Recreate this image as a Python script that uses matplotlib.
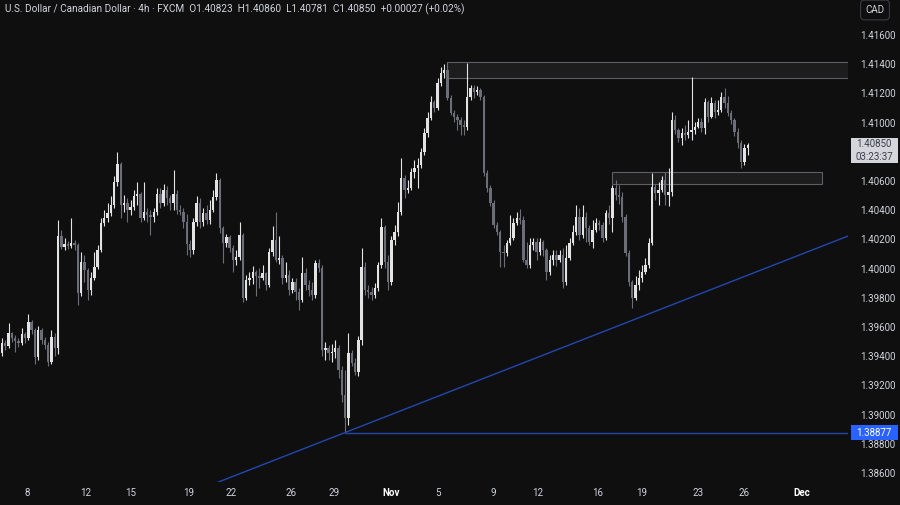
import numpy as np
import matplotlib.pyplot as plt
from matplotlib.patches import Rectangle

plt.rcParams['font.family'] = ['Roboto', 'DejaVu Sans']

# USD/CAD 4h candles (FXCM)
first_open = 1.39422
closes = [
    1.39490, 1.39470, 1.39559, 1.39525, 1.39504, 1.39490, 1.39552, 1.39525, 1.39634, 1.39580,
    1.39395, 1.39580, 1.39511, 1.39477, 1.39360, 1.39532, 1.39456, 1.40223, 1.40148, 1.40169,
    1.40155, 1.40175, 1.40162, 1.39833, 1.40045, 1.39991, 1.39854, 1.39936, 1.40011, 1.40128,
    1.40312, 1.40347, 1.40381, 1.40436, 1.40593, 1.40717, 1.40436, 1.40449, 1.40402, 1.40422,
    1.40497, 1.40511, 1.40347, 1.40388, 1.40367, 1.40354, 1.40388, 1.40511, 1.40449, 1.40539,
    1.40484, 1.40449, 1.40511, 1.40402, 1.40388, 1.40319, 1.40169, 1.40128, 1.40319, 1.40449,
    1.40319, 1.40381, 1.40333, 1.40402, 1.40491, 1.40607, 1.40278, 1.40175, 1.40217, 1.40141,
    1.40059, 1.40080, 1.40230, 1.39799, 1.39922, 1.39936, 1.39977, 1.39949, 1.39936, 1.39970,
    1.39888, 1.40114, 1.40196, 1.40059, 1.40073, 1.39936, 1.39956, 1.39854, 1.39908, 1.39840,
    1.39785, 1.39970, 1.39888, 1.39854, 1.39819, 1.40038, 1.40004, 1.39443, 1.39456, 1.39422,
    1.39429, 1.39456, 1.39306, 1.39134, 1.38977, 1.39422, 1.39353, 1.39292, 1.39511, 1.40011,
    1.39854, 1.39840, 1.39819, 1.39867, 1.40025, 1.40285, 1.40045, 1.39908, 1.40196, 1.40251,
    1.40388, 1.40621, 1.40539, 1.40552, 1.40662, 1.40689, 1.40710, 1.40799, 1.40929, 1.41032,
    1.41141, 1.41100, 1.41271, 1.41340, 1.41361, 1.41169, 1.41066, 1.41039, 1.41018, 1.40984,
    1.40970, 1.41176, 1.41237, 1.41210, 1.41224, 1.41176, 1.40655, 1.40552, 1.40449, 1.40299,
    1.40251, 1.40114, 1.40107, 1.40175, 1.40210, 1.40312, 1.40347, 1.40333, 1.40059, 1.40025,
    1.40162, 1.40182, 1.40114, 1.40182, 1.40128, 1.39977, 1.40059, 1.40093, 1.40059, 1.40093,
    1.39908, 1.40073, 1.40175, 1.40251, 1.40354, 1.40230, 1.40354, 1.40278, 1.40182, 1.40265,
    1.40312, 1.40299, 1.40210, 1.40381, 1.40347, 1.40552, 1.40504, 1.40491, 1.40354, 1.40107,
    1.39908, 1.39799, 1.39888, 1.39936, 1.39977, 1.40025, 1.40175, 1.40559, 1.40518, 1.40539,
    1.40607, 1.40504, 1.40525, 1.41018, 1.40950, 1.40895, 1.40929, 1.40915, 1.40936, 1.40950,
    1.40970, 1.41004, 1.40963, 1.41141, 1.41039, 1.41134, 1.41073, 1.41087, 1.41176, 1.41134,
    1.41066, 1.41018, 1.40936, 1.40860, 1.40730, 1.40823, 1.40850,
]
highs = [
    1.39525, 1.39511, 1.39627, 1.39566, 1.39545, 1.39525, 1.39593, 1.39566, 1.39689, 1.39648,
    1.39593, 1.39607, 1.39593, 1.39532, 1.39497, 1.39580, 1.39559, 1.40333, 1.40265, 1.40210,
    1.40189, 1.40347, 1.40196, 1.40175, 1.40114, 1.40093, 1.40004, 1.39977, 1.40114, 1.40162,
    1.40347, 1.40402, 1.40449, 1.40497, 1.40634, 1.40799, 1.40730, 1.40504, 1.40484, 1.40470,
    1.40539, 1.40593, 1.40525, 1.40593, 1.40415, 1.40402, 1.40415, 1.40552, 1.40552, 1.40580,
    1.40566, 1.40504, 1.40676, 1.40539, 1.40436, 1.40415, 1.40374, 1.40196, 1.40347, 1.40497,
    1.40484, 1.40415, 1.40436, 1.40470, 1.40539, 1.40655, 1.40621, 1.40292, 1.40237, 1.40230,
    1.40162, 1.40128, 1.40319, 1.40244, 1.39956, 1.39977, 1.40018, 1.39991, 1.40004, 1.40025,
    1.39977, 1.40141, 1.40292, 1.40388, 1.40223, 1.40093, 1.40045, 1.39991, 1.39936, 1.39936,
    1.39867, 1.40080, 1.40004, 1.39922, 1.39908, 1.40059, 1.40066, 1.40025, 1.39497, 1.39477,
    1.39484, 1.39511, 1.39477, 1.39333, 1.39306, 1.39559, 1.39443, 1.39388, 1.39538, 1.40141,
    1.40045, 1.39888, 1.39874, 1.39901, 1.40045, 1.40347, 1.40299, 1.40093, 1.40223, 1.40299,
    1.40456, 1.40758, 1.40641, 1.40607, 1.40689, 1.40744, 1.40758, 1.40826, 1.40963, 1.41073,
    1.41182, 1.41155, 1.41306, 1.41381, 1.41402, 1.41415, 1.41189, 1.41087, 1.41059, 1.41039,
    1.41018, 1.41408, 1.41258, 1.41258, 1.41251, 1.41237, 1.41189, 1.40676, 1.40573, 1.40470,
    1.40319, 1.40265, 1.40162, 1.40196, 1.40367, 1.40347, 1.40388, 1.40408, 1.40360, 1.40182,
    1.40210, 1.40210, 1.40210, 1.40210, 1.40196, 1.40141, 1.40093, 1.40128, 1.40128, 1.40128,
    1.40141, 1.40162, 1.40210, 1.40299, 1.40436, 1.40415, 1.40436, 1.40388, 1.40299, 1.40333,
    1.40347, 1.40333, 1.40319, 1.40402, 1.40436, 1.40573, 1.40607, 1.40573, 1.40525, 1.40374,
    1.40128, 1.39922, 1.39949, 1.39991, 1.40025, 1.40073, 1.40210, 1.40655, 1.40580, 1.40593,
    1.40634, 1.40662, 1.40689, 1.41073, 1.41052, 1.40963, 1.40963, 1.40984, 1.41018, 1.41313,
    1.41004, 1.41032, 1.41032, 1.41169, 1.41155, 1.41176, 1.41155, 1.41155, 1.41210, 1.41237,
    1.41182, 1.41087, 1.41032, 1.40963, 1.40881, 1.40854, 1.40860,
]
lows = [
    1.39401, 1.39443, 1.39456, 1.39497, 1.39429, 1.39463, 1.39477, 1.39490, 1.39511, 1.39552,
    1.39347, 1.39374, 1.39484, 1.39449, 1.39333, 1.39347, 1.39401, 1.39415, 1.40134, 1.40128,
    1.40134, 1.40141, 1.40128, 1.39751, 1.39812, 1.39908, 1.39785, 1.39819, 1.39922, 1.39997,
    1.40114, 1.40292, 1.40319, 1.40360, 1.40415, 1.40566, 1.40347, 1.40388, 1.40319, 1.40367,
    1.40402, 1.40436, 1.40319, 1.40333, 1.40319, 1.40230, 1.40319, 1.40367, 1.40415, 1.40429,
    1.40436, 1.40402, 1.40402, 1.40374, 1.40367, 1.40278, 1.40093, 1.40080, 1.40100, 1.40292,
    1.40278, 1.40292, 1.40306, 1.40306, 1.40388, 1.40470, 1.40244, 1.40038, 1.40148, 1.40114,
    1.39977, 1.40025, 1.40059, 1.39771, 1.39785, 1.39888, 1.39895, 1.39812, 1.39867, 1.39922,
    1.39854, 1.39874, 1.40086, 1.40045, 1.40032, 1.39895, 1.39908, 1.39819, 1.39833, 1.39785,
    1.39717, 1.39771, 1.39854, 1.39812, 1.39785, 1.39799, 1.39977, 1.39401, 1.39374, 1.39374,
    1.39360, 1.39388, 1.39251, 1.39086, 1.38877, 1.38929, 1.39333, 1.39271, 1.39264, 1.39477,
    1.39819, 1.39799, 1.39785, 1.39799, 1.39847, 1.40004, 1.40004, 1.39854, 1.39888, 1.40162,
    1.40223, 1.40367, 1.40484, 1.40518, 1.40539, 1.40621, 1.40552, 1.40689, 1.40778, 1.40902,
    1.41018, 1.41073, 1.41087, 1.41251, 1.41306, 1.41155, 1.41052, 1.41004, 1.40950, 1.40915,
    1.40915, 1.40950, 1.41155, 1.41169, 1.41189, 1.41155, 1.40634, 1.40525, 1.40429, 1.40278,
    1.40230, 1.40011, 1.40011, 1.40086, 1.40162, 1.40196, 1.40299, 1.40306, 1.40045, 1.40004,
    1.40004, 1.40128, 1.40059, 1.40093, 1.40086, 1.39922, 1.39956, 1.40025, 1.40018, 1.40045,
    1.39867, 1.39888, 1.40059, 1.40162, 1.40230, 1.40196, 1.40210, 1.40182, 1.40162, 1.40141,
    1.40251, 1.40265, 1.40182, 1.40196, 1.40306, 1.40251, 1.40470, 1.40443, 1.40319, 1.40086,
    1.39881, 1.39730, 1.39785, 1.39854, 1.39908, 1.39963, 1.40004, 1.40162, 1.40470, 1.40436,
    1.40525, 1.40436, 1.40429, 1.40497, 1.40922, 1.40867, 1.40847, 1.40881, 1.40895, 1.40881,
    1.40922, 1.40963, 1.40936, 1.40922, 1.41004, 1.41032, 1.41032, 1.41052, 1.41073, 1.41100,
    1.41045, 1.40991, 1.40909, 1.40826, 1.40689, 1.40710, 1.40781,
]

price_ticks = [1.386, 1.388, 1.390, 1.392, 1.394, 1.396, 1.398, 1.400,
               1.402, 1.404, 1.406, 1.410, 1.412, 1.414, 1.416]
date_pos = [7.5, 25.5, 39, 56.5, 69.5, 87.5, 100.5, 118, 132, 149,
            162.5, 180.5, 194, 211, 225, 242.5]
date_labels = ['8', '12', '15', '19', '22', '26', '29', 'Nov', '5', '9',
               '12', '16', '19', '23', '26', 'Dec']

resistance = (1.41305, 1.41415)   # zone drawn from bar 135
support = (1.40579, 1.40662)      # zone drawn from bar 185 to 248.5
swing_low = 1.38877
trend_bars = [104, 256.4]
trend_prices = [1.38877, 1.40223]
last_price = 1.40850
countdown = '03:23:37'

bg = '#0f0f0f'
up_col = '#e3e3e3'
down_col = '#6b6e78'
txt_col = '#d1d4dc'
line_blue = '#2248b0'

fig = plt.figure(figsize=(9, 5.05), dpi=100, facecolor=bg)
ax = fig.add_axes([0, 23 / 505, 848 / 900, 482 / 505], facecolor=bg)

c = np.array(closes)
o = np.concatenate([[first_open], c[:-1]])
h = np.maximum(np.array(highs), np.maximum(o, c))
l = np.minimum(np.array(lows), np.minimum(o, c))
x = np.arange(len(c))
up = c >= o
cols = np.where(up, up_col, down_col)

ax.vlines(x, l, h, colors=cols, linewidth=0.8, zorder=2)
body = np.maximum(np.abs(c - o), 0.00004)
ax.bar(x, body, bottom=np.minimum(o, c), width=0.72, color=cols,
       edgecolor='none', zorder=3)

# zones
ax.add_patch(Rectangle((135, resistance[0]), 130, resistance[1] - resistance[0],
                       facecolor='#2a2a2c', alpha=0.55, edgecolor='#9a9ca3',
                       linewidth=0.8, zorder=1))
ax.add_patch(Rectangle((185, support[0]), 63.5, support[1] - support[0],
                       facecolor='#2a2a2c', alpha=0.55, edgecolor='#9a9ca3',
                       linewidth=0.8, zorder=1))

# trendline and swing low
slope = (trend_prices[1] - trend_prices[0]) / (trend_bars[1] - trend_bars[0])
tx = np.array([64, 260])
ax.plot(tx, trend_prices[0] + slope * (tx - trend_bars[0]), color=line_blue,
        linewidth=1.0, zorder=4)
ax.hlines(swing_low, 104, 260, color=line_blue, linewidth=1.0, zorder=4)

ax.set_xlim(-0.6, 256.4)
ax.set_ylim(1.38538, 1.41840)
for s in ax.spines.values():
    s.set_visible(False)

ax.yaxis.tick_right()
ax.set_yticks(price_ticks)
ax.set_yticklabels(['%.5f' % p for p in price_ticks])
ax.tick_params(axis='y', length=0, pad=9, labelcolor=txt_col, labelsize=7)

ax.set_xticks(date_pos)
ax.set_xticklabels(date_labels)
ax.tick_params(axis='x', length=0, pad=4.5, labelcolor=txt_col, labelsize=7)
for t in ax.get_xticklabels():
    if t.get_text() in ('Nov', 'Dec'):
        t.set_fontweight('bold')
        t.set_color('white')

# price-scale labels
ytr = ax.get_yaxis_transform()
ax.add_patch(Rectangle((1.0035, swing_low - 0.00054), 0.0555, 0.00104,
                       transform=ytr, facecolor='#2962ff', edgecolor='none',
                       clip_on=False, zorder=5))
ax.text(1.031, swing_low, '%.5f' % swing_low, transform=ytr, ha='center',
        va='center', fontsize=7, color='white', clip_on=False, zorder=6)

ax.add_patch(Rectangle((1.0035, last_price - 0.00128), 0.0555, 0.00172,
                       transform=ytr, facecolor='#d4d6dc', edgecolor='none',
                       clip_on=False, zorder=5))
ax.text(1.031, last_price + 0.00003, '%.5f' % last_price, transform=ytr,
        ha='center', va='center', fontsize=7, color='#3b3f4a', clip_on=False, zorder=6)
ax.text(1.031, last_price - 0.00085, countdown, transform=ytr,
        ha='center', va='center', fontsize=7, color='#3b3f4a', clip_on=False, zorder=6)

fig.text(5 / 900, 1 - 9 / 505,
         'U.S. Dollar / Canadian Dollar \u00b7 4h \u00b7 FXCM  O1.40823  H1.40860  '
         'L1.40781  C1.40850  +0.00027 (+0.02%)',
         ha='left', va='center', fontsize=7.2, color=txt_col)
fig.text(875 / 900, 1 - 10 / 505, 'CAD', ha='center', va='center', fontsize=7,
         color=txt_col,
         bbox=dict(boxstyle='round,pad=0.5,rounding_size=0.4', facecolor=bg,
                   edgecolor='#3a3c42', linewidth=0.8))

fig.savefig('out.png', dpi=100, facecolor=bg)
